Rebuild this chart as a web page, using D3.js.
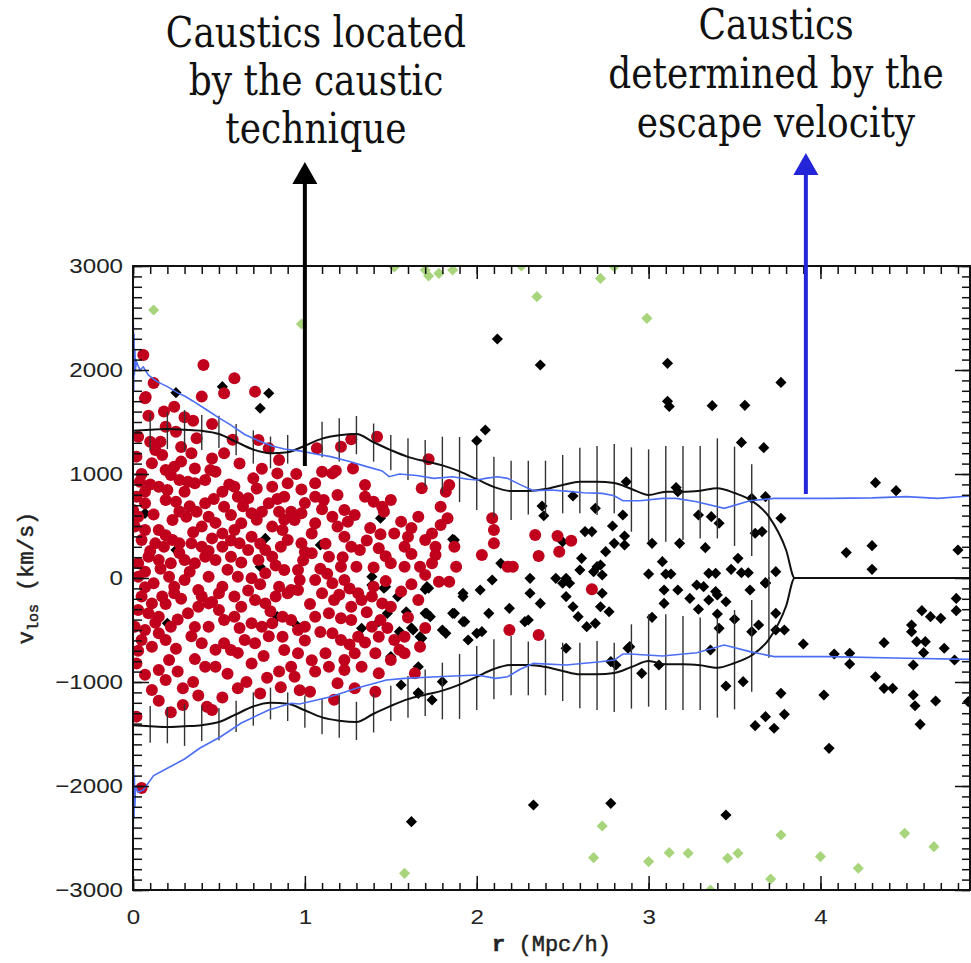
<!DOCTYPE html>
<html>
<head>
<meta charset="utf-8">
<script src="https://cdn.jsdelivr.net/npm/d3@7"></script>
<style>
  body { margin: 0; background: #fff; }
  svg { display: block; }
  .tick text { font-family: "Liberation Sans", Arial, sans-serif; font-size: 21px; fill: #222; }
</style>
</head>
<body>
<script>
// galaxies inside the caustics (red), interlopers (black), far outliers (green): [r, v]
var redPts = [
  [.06,2144],[.41,2048],[.59,1920],[.53,1776],[.40,1744],[.71,1792],[.07,1728],[.074,1740],[.12,1875],
  [.24,1647],[.30,1545],[.35,1513],[.19,1455],[.25,1407],[.37,1343],[.03,1359],[.10,1311],[.16,1311],
  [.53,1199],[.73,1327],[.79,1247],[.85,1135],[.84,1006],[.90,910],[.70,958],[.48,1022],[.45,1038],
  [.36,1054],[.28,1119],[.19,1038],[.11,1103],[.02,1167],[.17,1183],[.34,1199],[.22,990],[.32,926],
  [.36,910],[.04,926],[.07,830],[.15,878],[.20,846],[.27,942],[.52,830],[.42,718],[.25,734],[.19,750],
  [.02,782],[.00,654],[.07,718],[.61,782],[.67,766],[.81,878],[.88,782],[.79,718],[.37,638],[.44,590],
  [.53,686],[.57,606],[.63,526],[.69,622],[.75,638],[.85,638],[.92,638],[.98,622],[.23,558],[.31,590],
  [.40,494],[.15,462],[.07,462],[.01,494],[.05,365],[.13,333],[.18,301],[.23,365],[.27,333],[.34,333],
  [.46,381],[.40,301],[.52,429],[.59,462],[.62,333],[.69,397],[.81,494],[.87,462],[.94,558],[.98,333],
  [.90,365],[.77,269],[.81,205],[.73,173],[.67,269],[.57,205],[.52,301],[.48,173],[.42,205],[.36,141],
  [.30,173],[.22,141],[.15,173],[.09,205],[.03,141],[.03,13],[.07,61],[.12,-51],[.21,13],[.24,-83],
  [.30,-19],[.38,-115],[.44,13],[.52,-83],[.61,13],[.69,-3],[.77,45],[.85,-83],[.92,-115],[.96,77],
  [.88,77],[.40,-179],[.44,-244],[.50,-147],[.59,-179],[.63,-276],[.71,-212],[.77,-244],[.83,-179],
  [.90,-147],[.96,-115],[.05,-179],[.11,-244],[.17,-179],[.24,-147],[.03,-308],[.09,-340],[.15,-372],
  [.32,-340],[.38,-276],[.50,-308],[.53,-404],[.59,-372],[.69,-436],[.75,-468],[.81,-436],[.87,-372],
  [.92,-404],[.96,-500],[.01,-468],[.07,-500],[.15,-532],[.22,-468],[.19,-596],[.11,-660],[.05,-596],
  [.44,-468],[.40,-628],[.53,-628],[.57,-692],[.65,-596],[.71,-628],[.87,-564],[.88,-692],[.96,-724],
  [.02,-821],[.21,-788],[.15,-885],[.19,-981],[.11,-1077],[.42,-853],[.48,-853],[.69,-821],[.92,-853],
  [.94,-949],[.29,-1061],[.61,-1061],[.29,-1221],[.43,-1237],[.46,-1269],[.02,-1333],[.05,-2020],
  [1.07,1247],[1.21,1263],[1.27,1333],[1.42,1359],[1.72,1141],[1.10,1022],[1.16,1006],[1.18,1032],
  [1.28,1054],[1.06,910],[1.35,894],[1.19,798],[1.06,782],[1.11,750],[1.68,862],[1.84,894],[1.82,830],
  [1.35,782],[1.40,734],[1.45,686],[1.50,750],[1.46,638],[1.06,526],[1.16,590],[1.23,654],[1.29,606],
  [1.19,494],[1.79,686],[1.83,574],[1.79,510],[1.56,542],[1.66,590],[1.52,429],[1.60,397],[1.58,301],
  [1.70,365],[1.74,429],[1.76,301],[1.76,221],[1.04,429],[1.23,397],[1.27,301],[1.32,269],[1.43,285],
  [1.50,141],[1.58,109],[1.67,109],[1.74,141],[1.87,301],[1.88,109],[1.78,-35],[1.84,-35],[1.14,205],
  [1.04,237],[1.21,109],[1.30,109],[1.06,-19],[1.16,-51],[1.23,-19],[1.31,-147],[1.40,-83],[1.10,-147],
  [1.17,-212],[1.27,-276],[1.33,-212],[1.39,-179],[1.45,-244],[1.50,-276],[1.56,-131],[1.66,-212],
  [1.06,-372],[1.14,-340],[1.21,-388],[1.27,-404],[1.00,-468],[1.16,-532],[1.21,-596],[1.31,-564],
  [1.39,-468],[1.43,-564],[1.44,-404],[1.52,-596],[1.58,-564],[1.67,-660],[1.12,-724],[1.14,-853],
  [1.23,-788],[1.29,-724],[1.33,-853],[1.41,-724],[1.43,-917],[1.23,-885],[1.50,-788],[1.58,-724],
  [1.64,-917],[1.19,-1013],[1.29,-1061],[1.41,-1093],[1.03,-1093],
  [2.09,574],[2.10,462],[2.10,333],[2.03,221],[2.18,109],[2.34,413],[2.36,212],[2.47,404],[2.55,359],
  [2.48,253],[2.21,109],[2.67,-109],[2.19,-500],[2.36,-548],
  [.05,1000],[.24,1070],[.42,942],[.59,878],[.13,1230],[.28,1260],[.46,1150],[.62,1100],[.75,1050],
  [.95,1000],[.10,900],[.30,830],[.47,760],[.56,900],[.72,860],[.98,850],[1.0,720],[.84,760],[.64,690],
  [.33,690],[.12,610],[.27,640],[.48,530],[.72,560],[.88,560],[1.10,660],[1.25,540],[1.38,480],
  [1.44,420],[1.62,480],[.03,590],[.19,410],[.35,440],[.57,360],[.74,330],[.86,300],[1.00,250],
  [1.12,330],[1.36,360],[1.47,210],[.10,260],[.27,240],[.44,260],[.63,150],[.83,120],[.99,170],
  [1.09,90],[1.22,200],[1.40,100],[1.62,230],[.16,90],[.33,60],[.55,80],[.74,-60],[.97,-20],[1.13,40],
  [1.26,-100],[1.47,-30],[1.62,-60],[1.70,30],[.07,-90],[.19,-250],[.28,-200],[.46,-230],[.67,-120],
  [.80,-320],[1.03,-250],[1.20,-160],[1.36,-330],[1.60,-380],[.13,-430],[.26,-400],[.36,-470],
  [.62,-480],[.79,-560],[1.00,-600],[1.09,-520],[1.26,-640],[1.48,-480],[1.70,-480],[.03,-700],
  [.25,-680],[.34,-560],[.48,-690],[.61,-720],[.76,-750],[1.04,-790],[1.35,-620],[1.55,-690],[.85,-900],
  [.07,-930],[.26,-900],[.36,-780],[.55,-920],[.78,-960],[1.06,-900],[.35,-1000],[.66,-1000],
  [.86,-1050],[.52,-1150],[.15,-1180],[.22,-1290],[.38,-1130],[.74,-1110],[.97,-1080],[1.17,-1170],
  [.09,1560],[.18,1600],[.46,1480],[.58,1330]
];

var blackPts = [
  [.25,1782],[.52,1840],[.79,1776],[.74,1632],[.07,622],[1.09,317],[2.12,2298],[2.37,2048],[2.0,1320],
  [2.05,1423],[3.11,2064],[3.11,1700],[3.12,1650],[3.37,1657],[3.56,1660],[3.77,1881],[3.54,1304],
  [3.67,1253],[4.32,917],[4.44,840],[2.87,926],[2.56,788],[2.38,692],[2.39,599],[2.69,670],[2.85,606],
  [2.63,446],[2.67,446],[2.79,500],[2.86,404],[2.80,333],[2.86,317],[2.75,253],[2.61,189],[2.50,349],
  [2.14,141],[2.31,-3],[2.72,125],[2.68,61],[2.73,29],[2.52,-3],[2.46,-3],[1.86,372],[2.09,-19],
  [1.39,-67],[1.71,-83],[3.16,869],[3.17,830],[3.60,766],[3.68,782],[3.29,606],[3.365,590],[3.41,526],
  [3.77,574],[3.62,430],[3.66,446],[3.02,333],[3.18,333],[3.33,292],[3.08,157],[3.52,189],[4.15,244],
  [4.30,311],[4.80,269],[4.30,83],[3.00,38],[3.10,38],[3.13,38],[3.35,45],[3.39,45],[3.48,83],[3.54,51],
  [3.58,51],[3.74,61],[3.68,-45],[3.09,-115],[3.17,-115],[3.28,-67],[3.32,-83],[3.39,-131],[3.40,-163],
  [3.45,-228],[3.35,-212],[3.09,-244],[3.24,-196],[3.59,-115],[3.68,-51],[3.29,-301],[3.40,-346],
  [3.41,-484],[3.50,-397],[3.02,-378],[3.36,-692],[3.06,-837],[2.96,-917],[3.45,-1038],[3.55,-997],
  [3.60,-516],[3.64,-452],[3.74,-340],[3.74,-500],[3.79,-500],[3.77,-1109],[3.62,-1420],[3.68,-1333],
  [3.73,-1445],[3.79,-1311],[3.90,-635],[4.02,-1125],[4.05,-1638],[4.08,-731],[4.17,-724],[4.17,-827],
  [4.32,-949],[4.37,-1061],[4.42,-1061],[4.37,-622],[4.53,-452],[4.53,-516],[4.59,-314],[4.64,-372],
  [4.70,-388],[4.56,-612],[4.61,-612],[4.60,-718],[4.72,-676],[4.79,-196],[4.79,-314],[4.78,-788],
  [4.54,-837],[4.54,-1125],[4.55,-1228],[4.58,-1407],[4.67,-1183],[4.86,-1189],[3.45,-2279],[2.89,-660],
  [1.47,-83],[1.70,-109],[1.59,-324],[1.55,-516],[1.62,-480],[1.63,-500],[1.71,-340],[1.73,-372],
  [1.67,-564],[1.80,-500],[1.82,-532],[1.86,-340],[1.92,-147],[1.92,-420],[2.02,-115],[2.03,-516],
  [1.95,-596],[2.07,-340],[2.19,-292],[2.31,-147],[2.37,-244],[2.30,-404],[2.28,-420],[2.52,-179],
  [2.56,-276],[2.59,-372],[2.64,-468],[2.69,-436],[2.72,-276],[2.77,-324],[2.73,-147],[2.60,77],
  [2.70,109],[2.50,-51],[2.54,-51],[2.52,-676],[2.78,-804],[2.88,-676],[2.81,-837],[1.66,-1109],
  [1.74,-1173],[1.43,-420],[1.62,-2343],[2.33,-2183],[2.78,-2167],[1.44,574],[1.39,13],[1.46,-99],
  [1.72,-99],[1.92,-179],[1.56,-532],[1.68,-580],[1.70,-340],[1.87,-340],[1.93,-420],[2.0,-532],
  [1.50,-756],[1.66,-853],[1.56,-1029],[1.66,-1103],[1.80,-997],[1.87,365],[1.54,-179],[1.48,-340],
  [1.33,-484],[.25,269],[.77,381],[.84,-372],[.95,-452],[.20,-436],[.74,109]
];

var greenPts = [
  [.12,2577],[.98,2442],[1.52,2990],[1.70,2961],[1.72,2904],[1.78,2929],[1.86,2961],[2.26,3000],
  [2.35,2705],[2.72,2881],[2.80,2993],[2.99,2497],[1.58,-2840],[2.68,-2689],[2.73,-2385],[3.00,-2727],
  [3.12,-2641],[3.23,-2647],[3.46,-2695],[3.52,-2647],[3.77,-2471],[3.71,-2894],[3.36,-3000],
  [4.00,-2679],[4.22,-2791],[4.49,-2455],[4.66,-2583]
];

// caustic amplitude (upper branch; lower branch is its mirror)
var causticR = [0,.1,.2,.3,.4,.5,.6,.7,.8,.9,1.0,1.1,1.2,1.3,1.4,1.5,1.6,1.7,1.8,1.9,2.0,2.1,2.2,2.3,2.4,
  2.5,2.6,2.7,2.8,2.9,3.0,3.1,3.2,3.3,3.4,3.5,3.6,3.7,3.8,3.85,4.87];
var causticV = [1415,1425,1432,1425,1415,1385,1310,1235,1200,1210,1272,1340,1372,1385,1305,1230,1165,
  1122,1083,1025,950,875,837,837,856,894,926,926,913,856,798,830,830,840,862,817,743,590,269,0,0];

// error bars on the upper caustic (top, bottom)
var barR = [.1,.2,.3,.4,.5,.6,.7,.8,.9,1.0,1.1,1.2,1.3,1.4,1.5,1.6,1.7,1.8,1.9,2.0,2.1,2.2,2.3,2.4,2.5,
  2.6,2.7,2.8,2.9,3.0,3.1,3.2,3.3,3.4,3.5,3.6,3.7];
var barTop = [1584,1590,1615,1567,1560,1480,1420,1360,1375,1440,1503,1535,1558,1485,1375,1343,1327,
  1359,1355,1270,1167,1128,1128,1128,1183,1253,1269,1288,1256,1237,1269,1269,1269,1343,1263,1093,766];
var barBot = [1231,1240,1215,1230,1250,1180,1100,1054,1100,1130,1160,1120,1190,1119,1035,942,880,
  814,730,654,590,558,610,590,622,622,606,622,445,349,349,365,381,381,308,212,-10];

// escape velocity curves
var escUp = [[0,1720],[.002,2450],[.004,1800],[.006,2350],[.008,1950],[.011,2200],[.014,2000],
  [.02,2080],[.04,2000],[.06,2030],[.09,1950],[.14,1888],[.2,1840],[.26,1780],[.3,1750],[.35,1700],
  [.43,1615],[.5,1540],[.57,1470],[.65,1380],[.73,1320],[.81,1270],[.88,1240],[.98,1220],[1.07,1190],
  [1.15,1167],[1.26,1120],[1.36,1071],[1.45,1030],[1.49,974],[1.55,1000],[1.65,985],[1.75,958],
  [1.86,974],[1.95,950],[2.0,942],[2.06,960],[2.12,974],[2.18,958],[2.25,900],[2.33,840],[2.43,846],
  [2.52,835],[2.62,820],[2.73,814],[2.8,790],[2.85,743],[2.95,743],[3.08,766],[3.16,766],[3.28,734],
  [3.44,670],[3.59,743],[3.73,766],[4.05,766],[4.3,770],[4.5,782],[4.68,766],[4.87,788]];
var escLo = [[0,-1683],[.002,-2423],[.004,-1800],[.006,-2300],[.008,-1900],[.011,-2200],[.015,-2000],
  [.03,-2060],[.06,-2038],[.12,-1900],[.2,-1830],[.3,-1740],[.39,-1635],[.51,-1526],[.63,-1394],
  [.79,-1269],[.92,-1205],[.97,-1212],[1.15,-1141],[1.3,-1060],[1.475,-981],[1.58,-965],[1.77,-949],
  [2.0,-933],[2.11,-965],[2.18,-949],[2.25,-880],[2.33,-821],[2.52,-837],[2.72,-805],[2.8,-789],
  [2.85,-731],[2.89,-731],[3.08,-750],[3.28,-718],[3.44,-644],[3.59,-708],[3.73,-756],[4.05,-756],
  [4.5,-772],[4.87,-782]];

var yMajor = [-3000,-2000,-1000,0,1000,2000,3000];
var xMajor = [0,1,2,3,4];

var W = 971, H = 963;
var x = d3.scaleLinear().domain([0, 4.87]).range([133, 970]);
var y = d3.scaleLinear().domain([-3000, 3000]).range([890, 266]);

var svg = d3.select('body').append('svg')
  .attr('width', W)
  .attr('height', H);

svg.append('rect').attr('width', W).attr('height', H).attr('fill', '#fff');

svg.append('clipPath').attr('id', 'plotclip')
  .append('rect')
    .attr('x', x.range()[0]).attr('y', y.range()[1])
    .attr('width', x.range()[1] - x.range()[0])
    .attr('height', y.range()[0] - y.range()[1]);

var plot = svg.append('g').attr('clip-path', 'url(#plotclip)');

var diamond = d3.symbol().type(d3.symbolSquare).size(62);

plot.selectAll('path.black')
  .data(blackPts)
  .enter().append('path')
    .attr('class', 'black')
    .attr('d', diamond)
    .attr('transform', function(d) { return 'translate(' + x(d[0]) + ',' + y(d[1]) + ') rotate(45)'; })
    .attr('fill', '#000');

plot.selectAll('path.green')
  .data(greenPts)
  .enter().append('path')
    .attr('class', 'green')
    .attr('d', diamond)
    .attr('transform', function(d) { return 'translate(' + x(d[0]) + ',' + y(d[1]) + ') rotate(45)'; })
    .attr('fill', '#a8d57c');

plot.selectAll('circle.red')
  .data(redPts)
  .enter().append('circle')
    .attr('class', 'red')
    .attr('cx', function(d) { return x(d[0]); })
    .attr('cy', function(d) { return y(d[1]); })
    .attr('r', 6)
    .attr('fill', '#c0001c');

// error bars, upper and mirrored lower
barR.forEach(function(r, i) {
  [1, -1].forEach(function(sgn) {
    plot.append('line')
      .attr('x1', x(r)).attr('x2', x(r))
      .attr('y1', y(sgn * barTop[i])).attr('y2', y(sgn * barBot[i]))
      .attr('stroke', '#333')
      .attr('stroke-width', 1.4);
  });
});

var causticLine = function(sgn) {
  return d3.line()
    .x(function(d, i) { return x(causticR[i]); })
    .y(function(d) { return y(sgn * d); })
    .curve(d3.curveMonotoneX);
};

[1, -1].forEach(function(sgn) {
  plot.append('path')
    .datum(causticV)
    .attr('d', causticLine(sgn))
    .attr('fill', 'none')
    .attr('stroke', '#111')
    .attr('stroke-width', 2);
});

var escLine = d3.line()
  .x(function(d) { return x(d[0]); })
  .y(function(d) { return y(d[1]); });

[escUp, escLo].forEach(function(c) {
  plot.append('path')
    .datum(c)
    .attr('d', escLine)
    .attr('fill', 'none')
    .attr('stroke', '#4c6ef5')
    .attr('stroke-width', 1.6);
});

// axes
function styleAxis(g) {
  g.select('.domain').remove();
  g.selectAll('.tick line').attr('stroke', '#111').attr('stroke-width', 1.5);
}

svg.append('g')
  .attr('transform', 'translate(' + x.range()[0] + ',0)')
  .call(d3.axisLeft(y).tickValues(d3.range(-3000, 3001, 100)).tickSize(-9).tickFormat(''))
  .call(styleAxis);

var yAx = svg.append('g')
  .attr('transform', 'translate(' + x.range()[0] + ',0)')
  .call(d3.axisLeft(y).tickValues(yMajor).tickSize(-16).tickPadding(10).tickFormat(d3.format('d')))
  .call(styleAxis);
yAx.selectAll('text')
  .attr('x', -10 / 1.15)
  .attr('transform', 'scale(1.15,1)');

svg.append('g')
  .attr('transform', 'translate(' + x.range()[1] + ',0)')
  .call(d3.axisRight(y).tickValues(d3.range(-3000, 3001, 100)).tickSize(-8).tickFormat(''))
  .call(styleAxis);
svg.append('g')
  .attr('transform', 'translate(' + x.range()[1] + ',0)')
  .call(d3.axisRight(y).tickValues(yMajor).tickSize(-15).tickFormat(''))
  .call(styleAxis);

svg.append('g')
  .attr('transform', 'translate(0,' + y.range()[0] + ')')
  .call(d3.axisBottom(x).tickValues(d3.range(0, 4.87, 0.1)).tickSize(-7).tickFormat(''))
  .call(styleAxis);
var xAx = svg.append('g')
  .attr('transform', 'translate(0,' + y.range()[0] + ')')
  .call(d3.axisBottom(x).tickValues(xMajor).tickSize(-14).tickPadding(19).tickFormat(d3.format('d')))
  .call(styleAxis);
xAx.selectAll('text').attr('transform', 'scale(1.15,1)');

svg.append('g')
  .attr('transform', 'translate(0,' + y.range()[1] + ')')
  .call(d3.axisTop(x).tickValues(d3.range(0, 4.87, 0.1)).tickSize(-8).tickFormat(''))
  .call(styleAxis);
svg.append('g')
  .attr('transform', 'translate(0,' + y.range()[1] + ')')
  .call(d3.axisTop(x).tickValues(xMajor).tickSize(-13).tickFormat(''))
  .call(styleAxis);

// frame
svg.append('rect')
  .attr('x', x.range()[0]).attr('y', y.range()[1])
  .attr('width', x.range()[1] - x.range()[0])
  .attr('height', y.range()[0] - y.range()[1])
  .attr('fill', 'none')
  .attr('stroke', '#111')
  .attr('stroke-width', 2);

// axis titles
var xt = svg.append('text')
  .attr('x', (x.range()[0] + x.range()[1]) / 2)
  .attr('y', 951)
  .attr('text-anchor', 'middle')
  .style('font-family', '"Liberation Mono", "Courier New", monospace')
  .style('font-size', '22px')
  .attr('fill', '#222')
  .attr('stroke', '#222')
  .attr('stroke-width', 0.5);
xt.append('tspan').style('font-weight', 'bold').text('r');
xt.append('tspan').text(' (Mpc/h)');

var yt = svg.append('text')
  .attr('transform', 'translate(33,' + (y.range()[0] + y.range()[1]) / 2 + ') rotate(-90)')
  .attr('text-anchor', 'middle')
  .style('font-family', '"Liberation Mono", "Courier New", monospace')
  .style('font-size', '22px')
  .attr('fill', '#222')
  .attr('stroke', '#222')
  .attr('stroke-width', 0.5);
yt.append('tspan').text('v');
yt.append('tspan').attr('dy', 5).style('font-size', '15px').text('los');
yt.append('tspan').attr('dy', -5).text(' (km/s)');

// annotations
function label(lines, cx, y0, step) {
  lines.forEach(function(s, i) {
    svg.append('text')
      .attr('transform', 'translate(' + cx + ',' + (y0 + i * step) + ') scale(1,1.2)')
      .attr('text-anchor', 'middle')
      .style('font-family', '"DejaVu Serif", "Liberation Serif", serif')
      .style('font-size', '36px')
      .attr('fill', '#111')
      .text(s);
  });
}
label(['Caustics located', 'by the caustic', 'technique'], 316, 47, 48);
label(['Caustics', 'determined by the', 'escape velocity'], 776, 39, 49);

function arrow(r, vEnd, yTip, color) {
  var ax = x(r);
  svg.append('line')
    .attr('x1', ax).attr('x2', ax)
    .attr('y1', y(vEnd)).attr('y2', yTip + 18)
    .attr('stroke', color).attr('stroke-width', 4);
  svg.append('path')
    .attr('d', 'M' + ax + ',' + yTip + 'L' + (ax - 12.5) + ',' + (yTip + 22) + 'L' + (ax + 12.5) + ',' + (yTip + 22) + 'Z')
    .attr('fill', color);
}
arrow(1.0, 1077, 162, '#000');
arrow(3.915, 808, 153, '#2424d8');
</script>
</body>
</html>
